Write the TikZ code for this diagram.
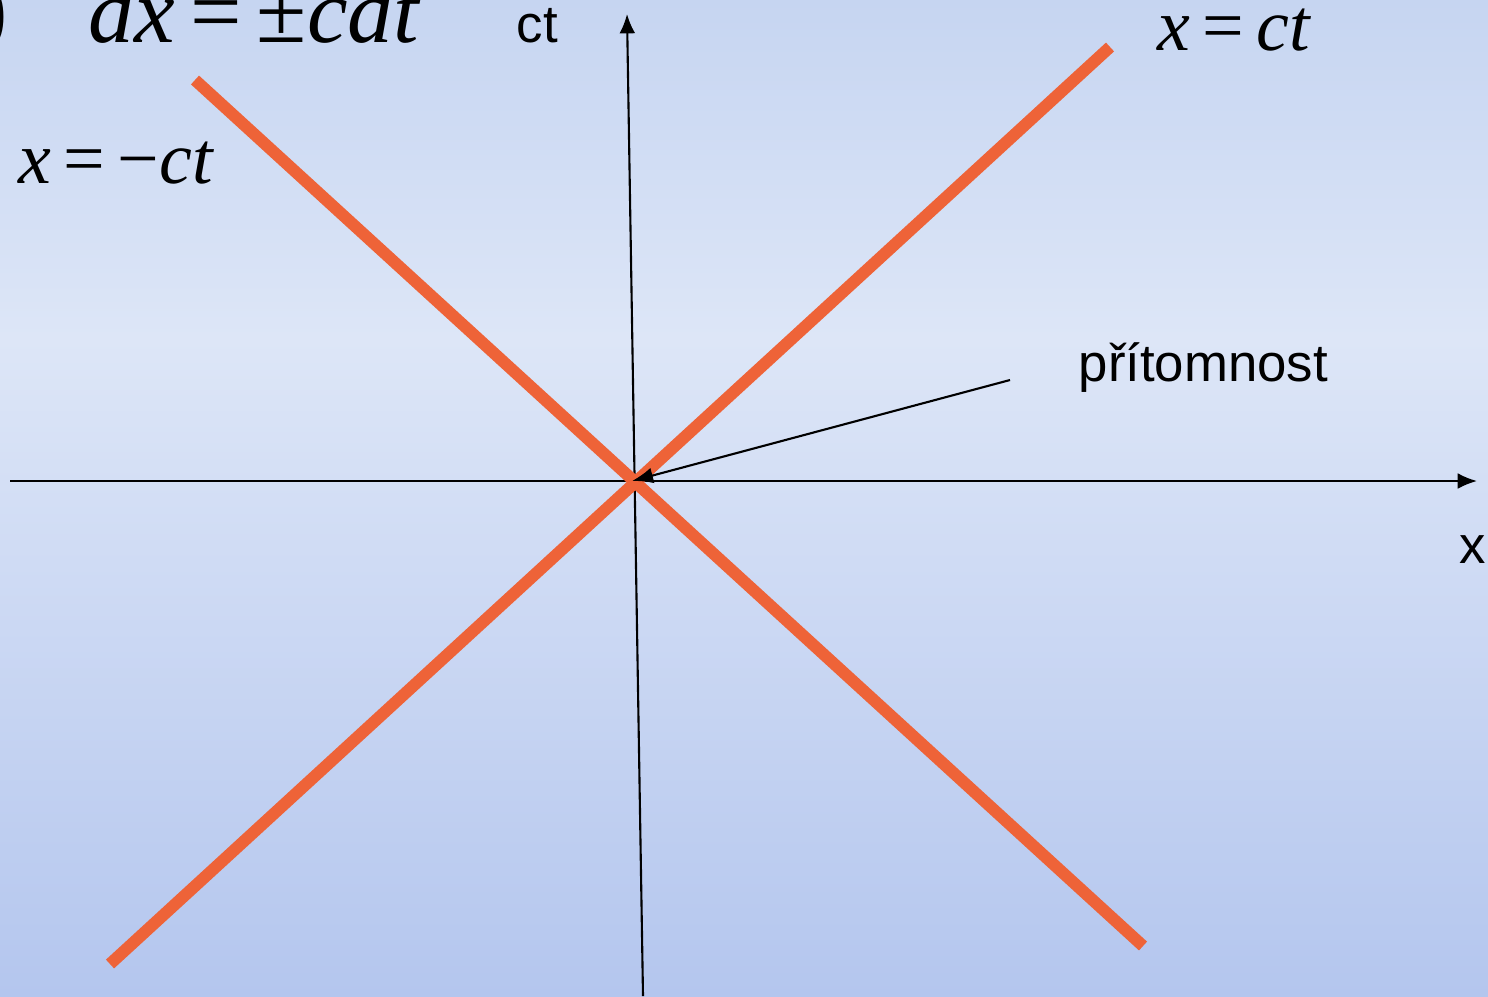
\documentclass[tikz,border=0pt]{standalone}
\usepackage{fontspec}
\setmainfont{Liberation Serif}
\newfontfamily\labelfont{Liberation Sans}
\usetikzlibrary{arrows.meta}
\definecolor{bgtop}{RGB}{198,213,241}
\definecolor{bgmid}{RGB}{221,230,247}
\definecolor{bgbottom}{RGB}{180,198,238}
\definecolor{lightcone}{RGB}{238,99,56}
\pgfdeclareverticalshading{bgshade}{100bp}{color(0bp)=(bgbottom); color(25bp)=(bgbottom);
  color(58bp)=(bgmid); color(75bp)=(bgtop); color(100bp)=(bgtop)}
\tikzset{
  axis/.style={line width=0.6pt, -{Latex[length=5.5pt, width=4.5pt]}},
  cone/.style={line width=3.4pt, lightcone},
  sanslabel/.style={inner sep=0pt, anchor=base west, font=\labelfont\fontsize{15}{18}\selectfont},
  eqlabel/.style={inner sep=0pt, anchor=base west, font=\fontsize{21}{25}\selectfont}
}
\begin{document}
\begin{tikzpicture}[x=0.01cm, y=-0.01cm, line join=round]
  % Background
  \shade[shading=bgshade] (0, 0) rectangle (1488, 996);
  \useasboundingbox (0, 0) rectangle (1488, 996);

  % Axes
  \coordinate (X1) at (10, 481);
  \coordinate (X2) at (1477, 481);
  \coordinate (T1) at (643, 996);
  \coordinate (T2) at (627, 14);
  \draw[axis] (X1) -- (X2);
  \draw[axis] (T1) -- (T2);
  \node[sanslabel] (xlab) at (1459, 563) {x};
  \node[sanslabel] (ctlab) at (516, 42) {ct};

  % Light cone x = ct and x = -ct
  \coordinate (O) at (632, 481);
  \coordinate (P1) at (1110, 47);
  \coordinate (P2) at (110, 964);
  \coordinate (M1) at (195, 80);
  \coordinate (M2) at (1143, 946);
  \draw[cone] (P2) -- (P1);
  \draw[cone] (M1) -- (M2);

  % Present
  \node[sanslabel] (now) at (1078, 381) {přítomnost};
  \coordinate (N) at (1010, 380);
  \draw[line width=0.6pt, -{Latex[length=6pt, width=4.5pt]}] (N) -- (O);

  % Equations
  \node[eqlabel, font=\fontsize{26}{31}\selectfont] (dx) at (88, 42)
    {\textit{dx}\,=\,±\textit{cdt}};
  \node[eqlabel, font=\fontsize{25}{30}\selectfont, anchor=base east] (paren) at (8, 38) {)};
  \node[eqlabel] (pos) at (1157, 50) {\textit{x}\,=\,\textit{ct}};
  \node[eqlabel] (neg) at (18, 183) {\textit{x}\,=\,−\textit{ct}};
\end{tikzpicture}
\end{document}
